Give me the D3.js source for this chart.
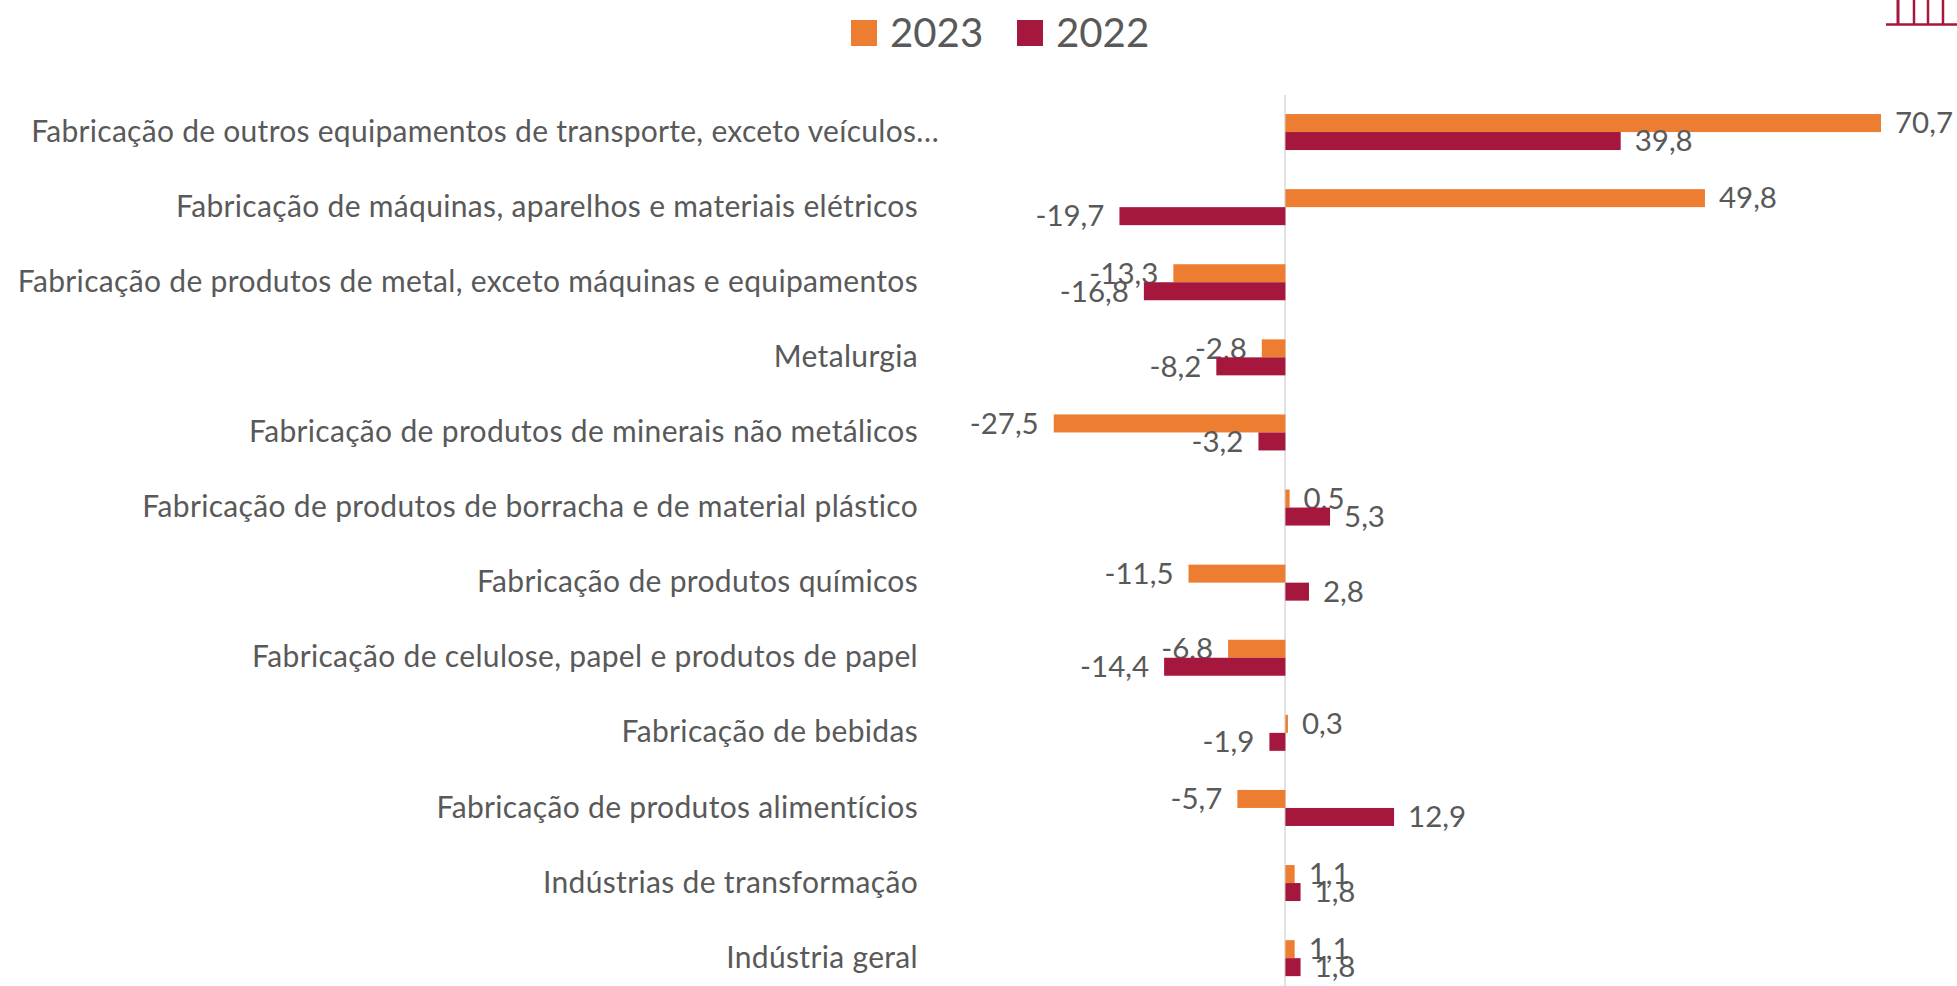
<!DOCTYPE html>
<html>
<head>
<meta charset="utf-8">
<script src="https://cdn.jsdelivr.net/npm/d3@7"></script>
<style>
    html, body { margin: 0; padding: 0; background: #fff; overflow: hidden; }
    text { font-family: Lato, sans-serif; fill: #595959; }
</style>
</head>
<body>
<svg id="container"></svg>
<script>
    var categories = [
        "Fabricação de outros equipamentos de transporte, exceto veículos…",
        "Fabricação de máquinas, aparelhos e materiais elétricos",
        "Fabricação de produtos de metal, exceto máquinas e equipamentos",
        "Metalurgia",
        "Fabricação de produtos de minerais não metálicos",
        "Fabricação de produtos de borracha e de material plástico",
        "Fabricação de produtos químicos",
        "Fabricação de celulose, papel e produtos de papel",
        "Fabricação de bebidas",
        "Fabricação de produtos alimentícios",
        "Indústrias de transformação",
        "Indústria geral"
    ];
    var values2023 = [70.7, 49.8, -13.3, -2.8, -27.5, 0.5, -11.5, -6.8, 0.3, -5.7, 1.1, 1.1];
    var values2022 = [39.8, -19.7, -16.8, -8.2, -3.2, 5.3, 2.8, -14.4, -1.9, 12.9, 1.8, 1.8];
    var seriesNames = ["2023", "2022"];
    var seriesColors = ["#ED7D31", "#A6173D"];

    var width = 1957, height = 986;
    var textColor = "#595959";

    var svg = d3.select("#container")
        .attr("width", width)
        .attr("height", height);

    var x = d3.scaleLinear().domain([0, 70.7]).range([1285.4, 1881]);
    var y = d3.scaleBand().domain(categories).range([94.5, 995.7]);
    var barHeight = 18;

    // virgula decimal e hifen no sinal, como no original
    var fmt = d3.formatLocale({ decimal: ",", thousands: ".", grouping: [3], currency: ["", ""], minus: "-" }).format(".1f");

    // rotulos das categorias
    var axis = svg.append("g")
        .attr("transform", "translate(918,0)")
        .call(d3.axisLeft(y).tickSize(0).tickPadding(0));
    axis.select(".domain").remove();
    axis.selectAll("text")
        .attr("font-size", 30)
        .attr("letter-spacing", (d, i) => i == 0 ? 0.28 : 0.33)
        .style("font-family", "Lato, sans-serif")
        .style("fill", textColor)
        .attr("dy", "0.32em")
        .attr("x", (d, i) => i == 0 ? 21 : 0);

    // linha do zero
    svg.append("line")
        .attr("x1", 1285).attr("x2", 1285)
        .attr("y1", 95).attr("y2", height)
        .attr("stroke", "#D9D9D9")
        .attr("stroke-width", 1.5);

    var allSeries = [values2023, values2022];
    allSeries.forEach((vals, s) => {
        var g = svg.append("g");
        g.selectAll("rect")
            .data(vals)
            .enter()
            .append("rect")
            .attr("x", d => Math.min(x(0), x(d)))
            .attr("width", d => Math.abs(x(d) - x(0)))
            .attr("y", (d, i) => y(categories[i]) + y.bandwidth() / 2 - barHeight + s * barHeight)
            .attr("height", barHeight)
            .attr("fill", seriesColors[s]);
        g.selectAll("text")
            .data(vals)
            .enter()
            .append("text")
            .attr("x", d => x(d) + (d < 0 ? -15 : 14))
            .attr("y", (d, i) => y(categories[i]) + y.bandwidth() / 2 - barHeight / 2 + s * barHeight)
            .attr("dy", "0.35em")
            .attr("text-anchor", d => d < 0 ? "end" : "start")
            .attr("font-size", 29.5)
            .text(d => fmt(d));
    });

    // legenda
    var legendX = [851, 1017];
    seriesNames.forEach((name, i) => {
        svg.append("rect")
            .attr("x", legendX[i]).attr("y", 20)
            .attr("width", 26).attr("height", 26)
            .attr("fill", seriesColors[i]);
        svg.append("text")
            .attr("x", legendX[i] + 39).attr("y", 47)
            .attr("font-size", 40.2)
            .text(name);
    });

    // detalhe no canto superior direito
    var cornerX = [1898, 1914, 1928, 1943];
    svg.append("line")
        .attr("x1", 1886).attr("x2", width)
        .attr("y1", 24.5).attr("y2", 24.5)
        .attr("stroke", seriesColors[1]).attr("stroke-width", 2.5);
    svg.selectAll(".corner")
        .data(cornerX)
        .enter()
        .append("line")
        .attr("class", "corner")
        .attr("x1", d => d).attr("x2", d => d)
        .attr("y1", 0).attr("y2", 24)
        .attr("stroke", seriesColors[1]).attr("stroke-width", (d, i) => i == 0 ? 3 : 2.5);
</script>
</body>
</html>
